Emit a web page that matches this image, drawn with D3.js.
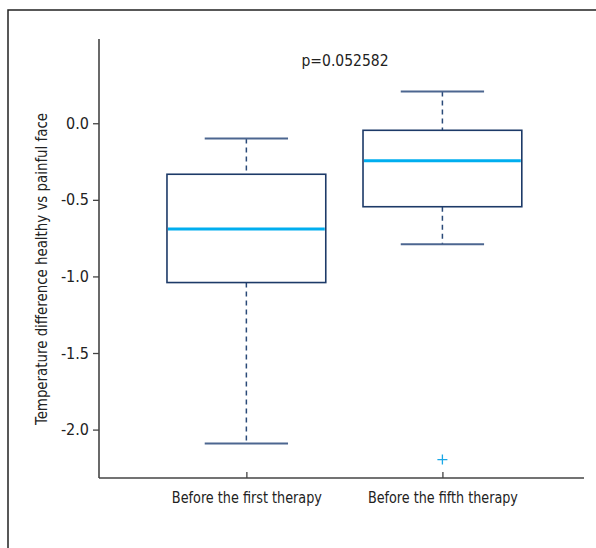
<!DOCTYPE html>
<html>
<head>
<meta charset="utf-8">
<script src="https://cdn.jsdelivr.net/npm/d3@7"></script>
<style>
  body { margin: 0; background: #fff; }
  text { font-family: "DejaVu Sans Condensed", "Liberation Sans Narrow", "Noto Sans", sans-serif; fill: #222; }
</style>
</head>
<body>
<div id="chart"></div>
<script>
'use strict'

// data
var groups = ["Before the first therapy", "Before the fifth therapy"];
var whiskerLow  = [-2.09, -0.79];
var q1          = [-1.04, -0.545];
var medians     = [-0.69, -0.245];
var q3          = [-0.333, -0.046];
var whiskerHigh = [-0.10, 0.207];
var outliers    = [[], [-2.196]];
var yTicks = [0.0, -0.5, -1.0, -1.5, -2.0];
var pLabel = "p=0.052582";
var yLabel = "Temperature difference healthy vs painful face";

const W = 596, H = 548;
const margin = {left: 99, right: 584, top: 39, bottom: 478};
const fontStack = '"DejaVu Sans Condensed", "Liberation Sans Narrow", sans-serif';

var svg = d3.select('#chart').append('svg')
  .attr('width', W)
  .attr('height', H);

// outer frame
svg.append('rect')
  .attr('x', 8).attr('y', 10)
  .attr('width', W).attr('height', H)
  .style('fill', 'none')
  .style('stroke', '#222')
  .style('stroke-width', 1.5);

var yScale = d3.scaleLinear()
  .domain([-2.316, 0.55])
  .range([margin.bottom, margin.top]);

var xScale = d3.scalePoint()
  .domain(groups)
  .range([margin.left, margin.right])
  .padding(0.737)
  .align(0.51);

var step = xScale.step();
var boxW = step * 0.81;
var capW = step * 0.425;

var boxes = groups.map(function(g, i){
  return {g: g, lo: whiskerLow[i], q1: q1[i], med: medians[i], q3: q3[i], hi: whiskerHigh[i], out: outliers[i]};
});

var plot = svg.append('g');

var b = plot.selectAll('g.box').data(boxes).enter().append('g').attr('class', 'box');

// dashed whiskers
b.append('line')
  .attr('x1', d => xScale(d.g)).attr('x2', d => xScale(d.g))
  .attr('y1', d => yScale(d.hi)).attr('y2', d => yScale(d.q3))
  .style('stroke', '#2a4a78').style('stroke-width', 1.5)
  .style('stroke-dasharray', '5,4');
b.append('line')
  .attr('x1', d => xScale(d.g)).attr('x2', d => xScale(d.g))
  .attr('y1', d => yScale(d.q1)).attr('y2', d => yScale(d.lo))
  .style('stroke', '#2a4a78').style('stroke-width', 1.5)
  .style('stroke-dasharray', '5,4');

// caps
['hi', 'lo'].forEach(function(k){
  b.append('line')
    .attr('x1', d => xScale(d.g) - capW / 2).attr('x2', d => xScale(d.g) + capW / 2)
    .attr('y1', d => yScale(d[k])).attr('y2', d => yScale(d[k]))
    .style('stroke', '#4c6690').style('stroke-width', 2);
});

// box
b.append('rect')
  .attr('x', d => xScale(d.g) - boxW / 2)
  .attr('y', d => yScale(d.q3))
  .attr('width', boxW)
  .attr('height', d => yScale(d.q1) - yScale(d.q3))
  .style('fill', 'none')
  .style('stroke', '#1d3a68')
  .style('stroke-width', 1.6);

// median
b.append('line')
  .attr('x1', d => xScale(d.g) - boxW / 2 + 1).attr('x2', d => xScale(d.g) + boxW / 2 - 1)
  .attr('y1', d => yScale(d.med)).attr('y2', d => yScale(d.med))
  .style('stroke', '#00aeef').style('stroke-width', 3);

// outliers as +
b.each(function(d){
  var sel = d3.select(this);
  d.out.forEach(function(v){
    var cx = xScale(d.g), cy = yScale(v);
    sel.append('path')
      .attr('d', 'M' + (cx - 5) + ',' + cy + 'H' + (cx + 5) + 'M' + cx + ',' + (cy - 5) + 'V' + (cy + 5))
      .style('stroke', '#1aa7e6').style('stroke-width', 1.3).style('fill', 'none');
  });
});

// axes
var yAxis = d3.axisLeft(yScale).tickValues(yTicks)
  .tickFormat(d => d3.format('.1f')(d).replace('\u2212', '-'))
  .tickSize(6).tickPadding(4);
var yG = svg.append('g').attr('transform', 'translate(' + margin.left + ',0)').call(yAxis);
yG.select('.domain').attr('d', 'M0,' + margin.top + 'V' + margin.bottom);

var xAxis = d3.axisBottom(xScale).tickSize(-6).tickPadding(14);
var xG = svg.append('g').attr('transform', 'translate(0,' + margin.bottom + ')').call(xAxis);
xG.select('.domain').attr('d', 'M' + margin.left + ',0H' + margin.right);
xG.selectAll('.tick text')
  .attr('textLength', 150)
  .attr('lengthAdjust', 'spacingAndGlyphs');

svg.selectAll('.domain').style('stroke', '#444').style('stroke-width', 1.6);
svg.selectAll('.tick line').style('stroke', '#444').style('stroke-width', 1.3);
svg.selectAll('.tick text')
  .style('font-family', fontStack)
  .style('font-size', '16px').style('fill', '#222');

// titles
svg.append('text')
  .attr('x', 345).attr('y', 66)
  .attr('textLength', 87)
  .attr('lengthAdjust', 'spacingAndGlyphs')
  .style('text-anchor', 'middle')
  .style('font-size', '16px')
  .text(pLabel);

svg.append('text')
  .attr('transform', 'translate(47,269) rotate(-90)')
  .attr('textLength', 312)
  .attr('lengthAdjust', 'spacingAndGlyphs')
  .style('text-anchor', 'middle')
  .style('font-size', '16px')
  .text(yLabel);
</script>
</body>
</html>
